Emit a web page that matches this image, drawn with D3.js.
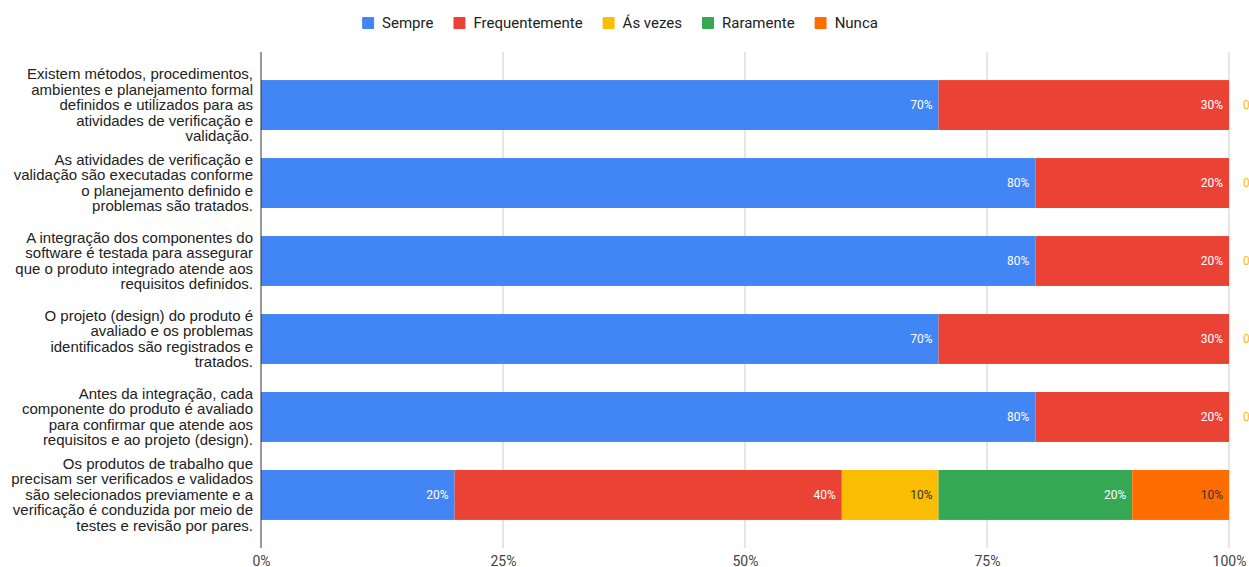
<!DOCTYPE html>
<html>
<head>
<meta charset="utf-8">
<script src="https://cdn.jsdelivr.net/npm/d3@7/dist/d3.min.js"></script>
<style>
  html, body { margin: 0; padding: 0; background: #fff; overflow: hidden; }
  svg { display: block; }
</style>
</head>
<body>
<svg id="chart" width="1249" height="567"></svg>
<script>
// Question labels (already broken into display lines)
const categories = [
  ["Existem métodos, procedimentos,", "ambientes e planejamento formal", "definidos e utilizados para as", "atividades de verificação e", "validação."],
  ["As atividades de verificação e", "validação são executadas conforme", "o planejamento definido e", "problemas são tratados."],
  ["A integração dos componentes do", "software é testada para assegurar", "que o produto integrado atende aos", "requisitos definidos."],
  ["O projeto (design) do produto é", "avaliado e os problemas", "identificados são registrados e", "tratados."],
  ["Antes da integração, cada", "componente do produto é avaliado", "para confirmar que atende aos", "requisitos e ao projeto (design)."],
  ["Os produtos de trabalho que", "precisam ser verificados e validados", "são selecionados previamente e a", "verificação é conduzida por meio de", "testes e revisão por pares."]
];

const seriesNames = ["Sempre", "Frequentemente", "Ás vezes", "Raramente", "Nunca"];
const sempre         = [70, 80, 80, 70, 80, 20];
const frequentemente = [30, 20, 20, 30, 20, 40];
const asVezes        = [0, 0, 0, 0, 0, 10];
const raramente      = [0, 0, 0, 0, 0, 20];
const nunca          = [0, 0, 0, 0, 0, 10];
const tickValues = [0, 25, 50, 75, 100];
const tickLabels = ["0%", "25%", "50%", "75%", "100%"];

const colors = ["#4285F4", "#EA4335", "#FBBC04", "#34A853", "#FF6D01"];
const labelColors = ["#ffffff", "#ffffff", "#333333", "#ffffff", "#333333"];

const seriesValues = [sempre, frequentemente, asVezes, raramente, nunca];
const rows = categories.map((c, i) => {
  const r = { idx: i };
  seriesNames.forEach((s, k) => { r[s] = seriesValues[k][i]; });
  return r;
});

const svg = d3.select("#chart");
const plotLeft = 261, plotRight = 1229, plotTop = 52, plotBottom = 548;

const x = d3.scaleLinear().domain([0, 100]).range([plotLeft, plotRight]);
const y = d3.scaleBand().domain(d3.range(categories.length)).range([plotTop, plotBottom])
  .paddingInner(0.36).paddingOuter(0.36);

// Gridlines
svg.append("g").selectAll("line").data(tickValues.filter(v => v > 0)).join("line")
  .attr("x1", d => x(d)).attr("x2", d => x(d))
  .attr("y1", plotTop).attr("y2", plotBottom)
  .attr("stroke", "#cccccc").attr("stroke-width", 1);

// Stacked bars
const stacked = d3.stack().keys(seriesNames)(rows);
const layers = svg.append("g").selectAll("g").data(stacked).join("g")
  .attr("fill", (d, k) => colors[k]);
layers.selectAll("rect").data(d => d).join("rect")
  .attr("x", d => x(d[0]))
  .attr("width", d => x(d[1]) - x(d[0]))
  .attr("y", d => y(d.data.idx))
  .attr("height", y.bandwidth());

// Value labels: inside the segment end; the first empty segment of a row
// gets its label just past the bar end
stacked.forEach((layer, k) => {
  layer.forEach(d => {
    const v = d[1] - d[0];
    const cy = y(d.data.idx) + y.bandwidth() / 2;
    if (v > 0) {
      svg.append("text")
        .attr("x", x(d[1]) - 6).attr("y", cy + 4)
        .attr("text-anchor", "end")
        .attr("font-family", "Roboto, sans-serif").attr("font-size", 12)
        .attr("fill", labelColors[k])
        .text(v + "%");
    } else if (k === 2) {
      svg.append("text")
        .attr("x", x(100) + 14).attr("y", cy + 4)
        .attr("text-anchor", "start")
        .attr("font-family", "Roboto, sans-serif").attr("font-size", 12)
        .attr("fill", colors[k])
        .text(v + "%");
    }
  });
});

// Baseline axis
svg.append("line")
  .attr("x1", plotLeft).attr("x2", plotLeft).attr("y1", plotTop).attr("y2", plotBottom)
  .attr("stroke", "#333333").attr("stroke-width", 1);

// X tick labels
const xAxis = d3.axisBottom(x).tickValues(tickValues)
  .tickFormat((d, i) => tickLabels[i]).tickSize(0).tickPadding(0);
const gx = svg.append("g").attr("transform", `translate(0, ${plotBottom + 8})`).call(xAxis);
gx.select(".domain").remove();
gx.selectAll("text").attr("font-family", "Roboto, sans-serif").attr("font-size", 14)
  .attr("fill", "#444444").attr("dy", "0.71em");

// Category labels
const lh = 15.5;
const catG = svg.append("g");
categories.forEach((lines, i) => {
  const cy = y(i) + y.bandwidth() / 2;
  const t = catG.append("text")
    .attr("text-anchor", "end")
    .attr("font-family", "'Liberation Sans', Arial, sans-serif")
    .attr("font-size", 15).attr("fill", "#222222");
  lines.forEach((ln, j) => {
    t.append("tspan").attr("x", 253)
      .attr("y", cy + (j - (lines.length - 1) / 2) * lh + 5)
      .text(ln);
  });
});

// Legend
const legend = svg.append("g");
let lx = 0;
seriesNames.forEach((s, k) => {
  const g = legend.append("g").attr("transform", `translate(${lx},0)`);
  g.append("rect").attr("x", 0).attr("y", -6).attr("width", 12).attr("height", 12)
    .attr("rx", 1).attr("fill", colors[k]);
  const t = g.append("text").attr("x", 20).attr("y", 5)
    .attr("font-family", "Roboto, sans-serif").attr("font-size", 15)
    .attr("fill", "#222222").text(s);
  lx += 20 + t.node().getComputedTextLength() + 20;
});
const legendW = lx - 20;
legend.attr("transform", `translate(${620 - legendW / 2}, 23)`);
</script>
</body>
</html>
